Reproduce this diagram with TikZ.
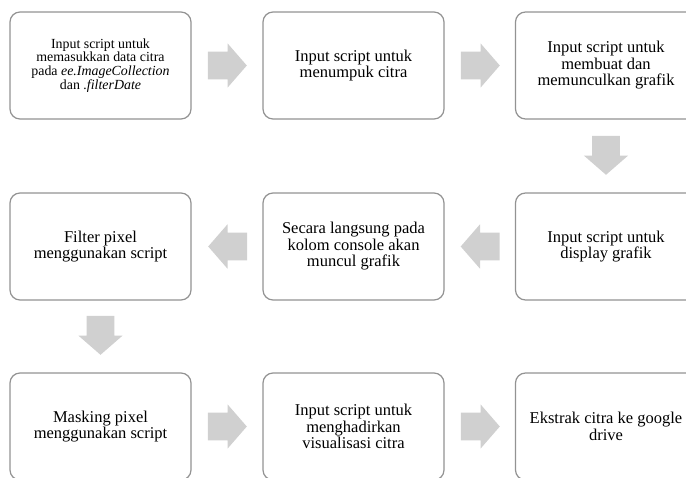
\documentclass[tikz,border=0pt]{standalone}
\usepackage{fontspec}
\setmainfont{Liberation Serif}
\usepackage{tikz}
\usetikzlibrary{calc,shapes.arrows,positioning}
\definecolor{edge}{HTML}{939393}
\definecolor{fillarr}{HTML}{D0D0D0}
\tikzset{
  box/.style={draw=edge, line width=1.2pt, rounded corners=10pt, fill=white,
    minimum width=181pt, minimum height=107pt, align=center, inner sep=0pt,
    font=\fontsize{16.5}{16.5}\selectfont},
  boxs/.style={box, font=\fontsize{13.9}{13.7}\selectfont},
  blk/.style={single arrow, fill=fillarr, draw=none, inner xsep=0pt,
    inner ysep=13.75pt, minimum height=39pt,
    single arrow head extend=8.25pt, single arrow tip angle=98},
  blkr/.style={blk},
  blkd/.style={blk, rotate=-90},
  blkl/.style={blk, rotate=180},
}
\begin{document}
\begin{tikzpicture}[x=1pt,y=-1pt]
  \useasboundingbox (0,0) rectangle (686,477);
  \clip (0,0) rectangle (686,477);

  % row 1
  \node[boxs] (b1) at (100.5,65.5) {Input script untuk\\memasukkan data citra\\pada \textit{ee.ImageCollection}\\dan \textit{.filterDate}};
  \node[box] (b2) at (353.5,65.5) {Input script untuk\\menumpuk citra};
  \node[box] (b3) at (606,65.5) {Input script untuk\\membuat dan\\memunculkan grafik};

  % row 2
  \node[box] (b4) at (606,246.5) {Input script untuk\\display grafik};
  \node[box] (b5) at (353.5,246.5) {Secara langsung pada\\kolom console akan\\muncul grafik};
  \node[box] (b6) at (100.5,246.5) {Filter pixel\\menggunakan script};

  % row 3
  \node[box] (b7) at (100.5,426.5) {Masking pixel\\menggunakan script};
  \node[box] (b8) at (353.5,426.5) {Input script untuk\\menghadirkan\\visualisasi citra};
  \node[box] (b9) at (606,426.5) {Ekstrak citra ke google\\drive};

  % block arrows
  \node[blkr, right=16pt of b1, anchor=tail] (a12) {};
  \node[blkr, right=16pt of b2, anchor=tail] (a23) {};
  \node[blkd, below=16pt of b3, anchor=tail] (a34) {};
  \node[blkl, left=15pt of b4, anchor=tail] (a45) {};
  \node[blkl, left=15pt of b5, anchor=tail] (a56) {};
  \node[blkd, below=15pt of b6, anchor=tail] (a67) {};
  \node[blkr, right=16pt of b7, anchor=tail] (a78) {};
  \node[blkr, right=16pt of b8, anchor=tail] (a89) {};
\end{tikzpicture}
\end{document}
